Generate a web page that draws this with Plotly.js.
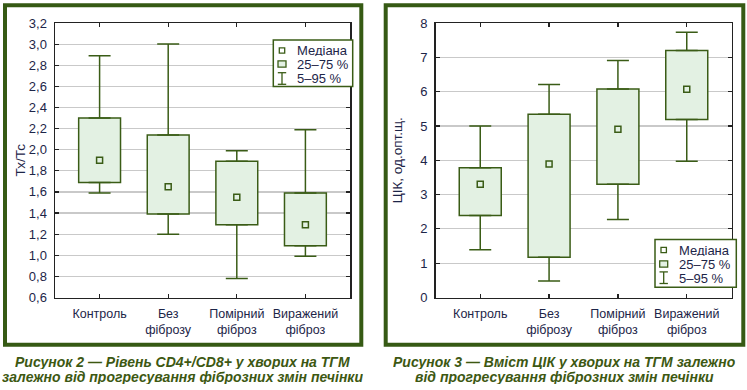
<!DOCTYPE html>
<html>
<head>
<meta charset="utf-8">
<script src="https://cdn.plot.ly/plotly-3.0.1.min.js"></script>
<style>
html,body{margin:0;padding:0;background:#fff;}
#chart{width:747px;height:390px;}
</style>
</head>
<body>
<div id="chart"></div>
<script>
// ---------- DATA ----------
const categories = ['Контроль', 'Без<br>фіброзу', 'Помірний<br>фіброз', 'Виражений<br>фіброз'];

// Рисунок 2 — CD4+/CD8+ (Тх/Тс)
const cdP5     = [1.59, 1.20, 0.78, 0.99];
const cdQ1     = [1.69, 1.39, 1.29, 1.09];
const cdMedian = [1.90, 1.65, 1.55, 1.29];
const cdQ3     = [2.30, 2.14, 1.89, 1.59];
const cdP95    = [2.89, 3.00, 1.99, 2.19];

// Рисунок 3 — ЦІК, од.опт.щ.
const cikP5     = [1.39, 0.48, 2.27, 3.97];
const cikQ1     = [2.39, 1.17, 3.30, 5.19];
const cikMedian = [3.30, 3.89, 4.90, 6.07];
const cikQ3     = [3.78, 5.34, 6.08, 7.20];
const cikP95    = [5.00, 6.21, 6.91, 7.73];

const legendLabels = ['Медіана', '25–75 %', '5–95 %'];
const caption2 = ['Рисунок 2 — Рівень CD4+/CD8+ у хворих на ТГМ', 'залежно від прогресування фіброзних змін печінки'];
const caption3 = ['Рисунок 3 — Вміст ЦІК у хворих на ТГМ залежно', 'від прогресування фіброзних змін печінки'];

// ---------- STYLE ----------
const W = 747, H = 390;
const GREEN = '#3a5c16';
const FILL = '#e3f1e3';
const FRAME = '#365a14';
const TXT = '#1d2548';
const CAP = '#3d5812';
const FONT = 'Liberation Sans, Arial, Helvetica, sans-serif';
const px = x => x / W;
const py = y => 1 - y / H;

function boxTraces(q1, q3, med, p5, p95, xa, ya) {
  const zeros = q1.map(() => 0);
  return [
    {
      type: 'bar', x: categories, base: q1, y: q3.map((v, i) => v - q1[i]),
      width: 0.61, xaxis: xa, yaxis: ya, showlegend: false, hoverinfo: 'skip',
      marker: {color: FILL, line: {color: GREEN, width: 1.5}}
    },
    {
      type: 'scatter', mode: 'markers', x: categories, y: q3, xaxis: xa, yaxis: ya,
      showlegend: false, hoverinfo: 'skip', marker: {opacity: 0, size: 1},
      error_y: {type: 'data', symmetric: false, array: p95.map((v, i) => v - q3[i]),
                arrayminus: zeros, width: 11, thickness: 1.5, color: GREEN}
    },
    {
      type: 'scatter', mode: 'markers', x: categories, y: q1, xaxis: xa, yaxis: ya,
      showlegend: false, hoverinfo: 'skip', marker: {opacity: 0, size: 1},
      error_y: {type: 'data', symmetric: false, array: zeros,
                arrayminus: q1.map((v, i) => v - p5[i]), width: 11, thickness: 1.5, color: GREEN}
    },
    {
      type: 'scatter', mode: 'markers', x: categories, y: med, xaxis: xa, yaxis: ya,
      showlegend: false, hoverinfo: 'skip',
      marker: {symbol: 'square-open', size: 6, color: GREEN, line: {width: 1.5, color: GREEN}}
    }
  ];
}

const data = [
  ...boxTraces(cdQ1, cdQ3, cdMedian, cdP5, cdP95, 'x', 'y'),
  ...boxTraces(cikQ1, cikQ3, cikMedian, cikP5, cikP95, 'x2', 'y2')
];

const axBase = {
  showline: true, linecolor: '#222', linewidth: 1.5, mirror: 'ticks',
  ticks: 'inside', ticklen: 4, tickcolor: '#222', tickwidth: 1.2,
  tickfont: {family: FONT, size: 13, color: TXT}, zeroline: false, fixedrange: true
};

const xBase = Object.assign({}, axBase, {
  type: 'category', range: [-0.65, 3.65], showgrid: false,
  tickfont: {family: FONT, size: 12.5, color: TXT}, ticklabelstandoff: 4
});

const yDomain = [py(297.5), py(23)];

const layout = {
  width: W, height: H,
  margin: {l: 0, r: 0, t: 0, b: 0},
  paper_bgcolor: '#fff', plot_bgcolor: '#fff',
  separators: ', ',
  showlegend: false,
  xaxis: Object.assign({}, xBase, {domain: [px(55), px(350)], anchor: 'y'}),
  xaxis2: Object.assign({}, xBase, {domain: [px(435.5), px(731.5)], anchor: 'y2'}),
  yaxis: Object.assign({}, axBase, {
    domain: yDomain, anchor: 'x', range: [0.6, 3.2], tick0: 0.6, dtick: 0.2, tickformat: '.1f',
    showgrid: true, gridcolor: '#c9c9c9', gridwidth: 1.2, ticklabelstandoff: 4,
    title: {text: 'Тх/Тс', font: {family: FONT, size: 13.5, color: TXT}, standoff: 0}
  }),
  yaxis2: Object.assign({}, axBase, {
    domain: yDomain, anchor: 'x2', range: [0, 8], dtick: 1,
    showgrid: true, gridcolor: '#c9c9c9', gridwidth: 1.2, ticklabelstandoff: 4,
    title: {text: 'ЦІК, од.опт.щ.', font: {family: FONT, size: 13.5, color: TXT}, standoff: 14}
  }),
  shapes: [],
  annotations: []
};

// frames
layout.shapes.push({type: 'rect', xref: 'paper', yref: 'paper', x0: px(5), x1: px(361.3), y0: py(5.3), y1: py(344.7),
  line: {color: FRAME, width: 4}, layer: 'below'});
layout.shapes.push({type: 'rect', xref: 'paper', yref: 'paper', x0: px(385.7), x1: px(743.3), y0: py(5.3), y1: py(344.7),
  line: {color: FRAME, width: 4}, layer: 'below'});

// legends (drawn boxes with real text)
function addLegend(x0, x1, y0, y1, rows, symX, textX) {
  layout.shapes.push({type: 'rect', xref: 'paper', yref: 'paper', x0: px(x0), x1: px(x1), y0: py(y0), y1: py(y1),
    line: {color: GREEN, width: 1.5}, fillcolor: '#fff', layer: 'above'});
  // median square
  layout.shapes.push({type: 'rect', xref: 'paper', yref: 'paper', x0: px(symX - 2.7), x1: px(symX + 2.7),
    y0: py(rows[0] - 2.7), y1: py(rows[0] + 2.7), line: {color: GREEN, width: 1.3}, fillcolor: '#fff', layer: 'above'});
  // 25–75 box
  layout.shapes.push({type: 'rect', xref: 'paper', yref: 'paper', x0: px(symX - 4), x1: px(symX + 4),
    y0: py(rows[1] - 3.2), y1: py(rows[1] + 3.2), line: {color: GREEN, width: 1.3}, fillcolor: FILL, layer: 'above'});
  // 5–95 whisker symbol
  const t = rows[2] - 5.8, b = rows[2] + 5.8;
  layout.shapes.push({type: 'line', xref: 'paper', yref: 'paper', x0: px(symX), x1: px(symX), y0: py(t), y1: py(b),
    line: {color: GREEN, width: 1.3}, layer: 'above'});
  layout.shapes.push({type: 'line', xref: 'paper', yref: 'paper', x0: px(symX - 4.2), x1: px(symX + 4.2), y0: py(t), y1: py(t),
    line: {color: GREEN, width: 1.3}, layer: 'above'});
  layout.shapes.push({type: 'line', xref: 'paper', yref: 'paper', x0: px(symX - 4.2), x1: px(symX + 4.2), y0: py(b), y1: py(b),
    line: {color: GREEN, width: 1.3}, layer: 'above'});
  legendLabels.forEach((lbl, i) => {
    layout.annotations.push({xref: 'paper', yref: 'paper', x: px(textX), y: py(rows[i]), xanchor: 'left', yanchor: 'middle',
      text: lbl, showarrow: false, borderpad: 0, height: 12,
      font: {family: FONT, size: 13, color: TXT}});
  });
}
addLegend(273.3, 352.7, 40, 86.5, [50.5, 64, 78.5], 282, 296);
addLegend(655, 736.3, 239.5, 287.3, [250, 264, 277.7], 663.7, 677.5);

// captions
function addCaption(lines, cx) {
  [361.5, 377].forEach((y, i) => {
    layout.annotations.push({xref: 'paper', yref: 'paper', x: px(cx), y: py(y), xanchor: 'center', yanchor: 'middle',
      text: '<b><i>' + lines[i] + '</i></b>', showarrow: false, borderpad: 0, height: 14,
      font: {family: FONT, size: 14, color: CAP}});
  });
}
addCaption(caption2, 182.5);
addCaption(caption3, 564);

Plotly.newPlot('chart', data, layout, {displayModeBar: false, staticPlot: true});
</script>
</body>
</html>
